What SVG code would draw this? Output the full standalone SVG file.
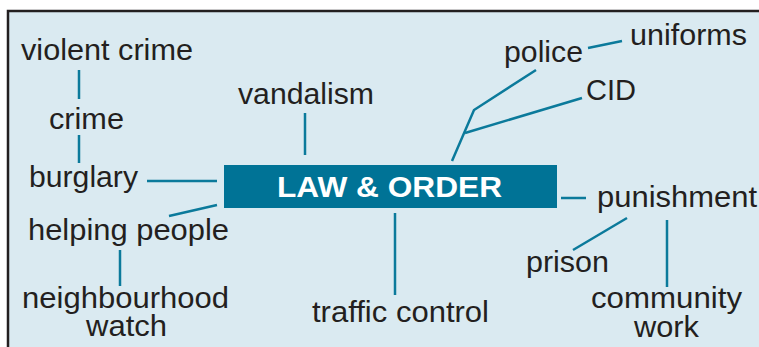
<svg xmlns="http://www.w3.org/2000/svg" width="759" height="347" viewBox="0 0 759 347">
<style>
.t{font-family:"Liberation Sans",Arial,sans-serif;font-size:29px;fill:#231f20}
.c{stroke:#0b7a9b;stroke-width:2.5;fill:none;stroke-linecap:butt}
.h{font-family:"Liberation Sans",Arial,sans-serif;font-size:29px;font-weight:bold;fill:#ffffff}
</style>
<rect x="0" y="0" width="759" height="347" fill="#ffffff"/>
<rect x="8" y="11" width="760" height="345" fill="#daeaf1" stroke="#231f20" stroke-width="2.5"/>
<g id="connectors">
<line class="c" x1="79" y1="70" x2="79" y2="99"/>
<line class="c" x1="79" y1="135" x2="79" y2="163"/>
<line class="c" x1="147" y1="181" x2="217" y2="181"/>
<line class="c" x1="305" y1="113" x2="305" y2="155"/>
<line class="c" x1="169" y1="216" x2="217" y2="205"/>
<line class="c" x1="120" y1="250" x2="120" y2="286"/>
<line class="c" x1="395" y1="213" x2="395" y2="295"/>
<line class="c" x1="561" y1="198" x2="586" y2="198"/>
<line class="c" x1="573" y1="250" x2="627" y2="218"/>
<line class="c" x1="667" y1="220" x2="667" y2="287"/>
<polyline class="c" points="452,161 474,110 536,70"/>
<line class="c" x1="465" y1="133" x2="582" y2="98"/>
<line class="c" x1="588" y1="48" x2="622" y2="41"/>
</g>
<g id="center">
<rect x="224" y="165" width="333" height="43" fill="#007396"/>
<text class="h" x="277" y="197" textLength="225" lengthAdjust="spacingAndGlyphs">LAW &amp; ORDER</text>
</g>
<g id="violent-crime"><text class="t" x="21" y="60" textLength="172" lengthAdjust="spacingAndGlyphs">violent crime</text></g>
<g id="crime"><text class="t" x="49" y="129" textLength="75" lengthAdjust="spacingAndGlyphs">crime</text></g>
<g id="burglary"><text class="t" x="29" y="187" textLength="109" lengthAdjust="spacingAndGlyphs">burglary</text></g>
<g id="vandalism"><text class="t" x="238" y="104" textLength="136" lengthAdjust="spacingAndGlyphs">vandalism</text></g>
<g id="helping-people"><text class="t" x="28" y="240" textLength="201" lengthAdjust="spacingAndGlyphs">helping people</text></g>
<g id="neighbourhood-watch"><text class="t" x="22" y="308" textLength="207" lengthAdjust="spacingAndGlyphs">neighbourhood</text><text class="t" x="86" y="336" textLength="81" lengthAdjust="spacingAndGlyphs">watch</text></g>
<g id="traffic-control"><text class="t" x="312" y="322" textLength="177" lengthAdjust="spacingAndGlyphs">traffic control</text></g>
<g id="police"><text class="t" x="504" y="62" textLength="79" lengthAdjust="spacingAndGlyphs">police</text></g>
<g id="uniforms"><text class="t" x="630" y="45" textLength="117" lengthAdjust="spacingAndGlyphs">uniforms</text></g>
<g id="cid"><text class="t" x="586" y="100" textLength="50" lengthAdjust="spacingAndGlyphs">CID</text></g>
<g id="punishment"><text class="t" x="597" y="207" textLength="160" lengthAdjust="spacingAndGlyphs">punishment</text></g>
<g id="prison"><text class="t" x="526" y="272" textLength="83" lengthAdjust="spacingAndGlyphs">prison</text></g>
<g id="community-work"><text class="t" x="591" y="308" textLength="151" lengthAdjust="spacingAndGlyphs">community</text><text class="t" x="634" y="337" textLength="65" lengthAdjust="spacingAndGlyphs">work</text></g>
</svg>
